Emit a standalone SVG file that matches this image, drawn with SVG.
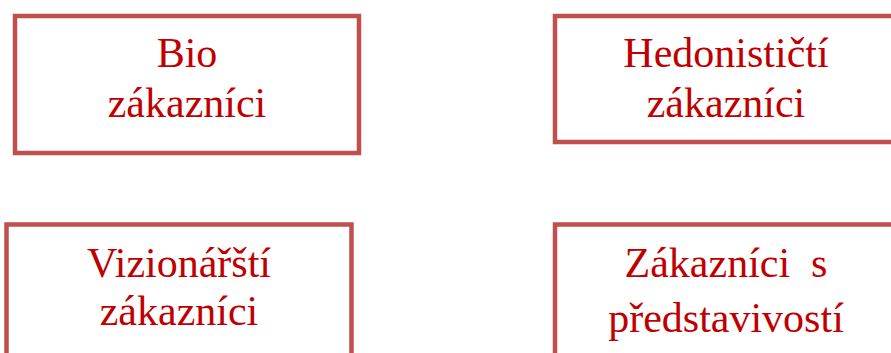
<svg xmlns="http://www.w3.org/2000/svg" width="891" height="353" viewBox="0 0 891 353">
<style>
.box{fill:#fff;stroke:#C0504D;stroke-width:4.5;}
.t{font-family:"Liberation Serif","Times New Roman",serif;font-size:42px;fill:#C00000;text-anchor:middle;}
</style>
<rect width="891" height="353" fill="#fff"/>
<g id="node-bio">
<rect class="box" x="15" y="16" width="344" height="137"/>
<text class="t" x="187" y="67">Bio</text>
<text class="t" x="187" y="117">zákazníci</text>
</g>
<g id="node-hedon">
<rect class="box" x="555" y="16" width="342" height="126"/>
<text class="t" x="726" y="67">Hedonističtí</text>
<text class="t" x="726" y="117">zákazníci</text>
</g>
<g id="node-vizion">
<rect class="box" x="6.5" y="224.5" width="345" height="140"/>
<text class="t" x="179" y="277">Vizionářští</text>
<text class="t" x="179" y="325">zákazníci</text>
</g>
<g id="node-predst">
<rect class="box" x="555" y="224.5" width="342" height="140"/>
<text class="t" x="726" y="277" xml:space="preserve">Zákazníci  s</text>
<text class="t" x="726" y="332">představivostí</text>
</g>
<g id="connectors"></g>
</svg>
